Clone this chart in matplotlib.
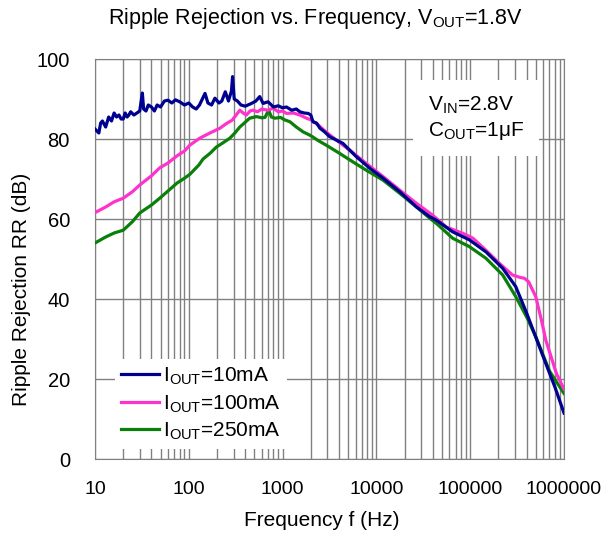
import matplotlib
matplotlib.use("Agg")
import matplotlib.pyplot as plt
from matplotlib.ticker import FixedLocator, NullFormatter

plt.rcParams['font.family'] = ['Liberation Sans', 'DejaVu Sans']
plt.rcParams['mathtext.fontset'] = 'custom'
plt.rcParams['mathtext.rm'] = 'Liberation Sans'

# IOUT = 10mA (blue)
f_10 = [10, 11, 11.5, 12, 13, 14, 15, 16, 17, 18, 19, 20, 21, 22, 23, 24, 26, 28, 30,
        32, 33, 35, 37, 40, 43, 46, 50, 55, 60, 66, 72, 80, 90, 100, 110, 120, 130,
        149, 160, 175, 190, 210, 225, 245, 265, 285, 293, 305, 330, 360, 400, 466,
        520, 570, 620, 700, 800, 900, 1000, 1100, 1250, 1400, 1530, 1700, 1870, 2000,
        2110, 2300, 2500, 2800, 3170, 3700, 4400, 5200, 6100, 8500, 11800, 17800,
        26800, 37000, 43600, 65000, 98000, 147000, 222000, 306000, 398000, 600000,
        800000, 1000000]
rr_10 = [82.5, 81.5, 84, 84.5, 83, 85.5, 84.5, 86.5, 85.5, 86, 85, 85, 86.5, 85.5, 86,
         86.8, 86, 86.5, 87, 91.5, 87.5, 87, 88.5, 88, 87, 88.5, 88, 89.5, 89.7, 89,
         89.8, 89.3, 88.5, 89, 88, 87.5, 88.5, 91.4, 89, 88.5, 90.2, 89, 89.5, 91.8,
         89.5, 92, 95.6, 90, 89.5, 88.5, 88.2, 88.9, 89.5, 90.6, 88.9, 89.3, 88, 88.3,
         87.8, 88, 87.2, 87.5, 86.8, 86.5, 86.4, 86, 84.3, 84, 82.7, 81.8, 80.6, 79.8,
         78.9, 77.2, 75.6, 72.7, 70.2, 66.8, 63, 60.6, 59.7, 56.8, 54.8, 51.8, 47.7,
         43.1, 36.6, 25.6, 18, 11.5]

# IOUT = 100mA (pink)
f_100 = [10, 13, 16, 20, 25, 30, 40, 49, 60, 75, 90, 103, 131, 168, 215, 253, 290, 320,
         350, 380, 412, 450, 484, 540, 600, 690, 794, 900, 1000, 1100, 1300, 1530, 1800,
         2000, 2400, 2900, 3750, 5200, 7800, 11800, 17800, 26800, 39600, 55600, 84000,
         107000, 147000, 205000, 283000, 340000, 377000, 420000, 444000, 500000, 575000,
         640000, 830000, 1000000]
rr_100 = [61.6, 63, 64.3, 65.2, 66.8, 68.5, 70.8, 72.8, 74, 75.8, 77, 78.5, 80.2, 81.5,
          82.7, 83.9, 84.7, 86, 87.2, 86.5, 86, 87, 87.2, 86.8, 87.5, 87.2, 87.7, 86.8,
          87, 86.4, 86.5, 86, 85.2, 84.8, 83.5, 81.8, 79.7, 77.2, 73.9, 70.6, 67.2, 63.9,
          61, 58, 56.4, 55.2, 52.2, 48.9, 46, 45.4, 45.2, 44.3, 43.1, 40.6, 34.7, 29.7,
          21.4, 17.5]

# IOUT = 250mA (green)
f_250 = [10, 13, 16, 20, 25, 30, 40, 49, 60, 75, 90, 103, 128, 142, 170, 197, 230, 274,
         310, 350, 400, 446, 527, 600, 650, 710, 760, 830, 950, 1050, 1200, 1400, 1650,
         1940, 2100, 2400, 2900, 4060, 5600, 7800, 11800, 17800, 26800, 37000, 43600,
         65000, 98000, 147000, 222000, 306000, 398000, 500000, 700000, 1000000]
rr_250 = [54, 55.5, 56.5, 57.2, 59.3, 61.5, 63.5, 65.2, 67, 69, 70.2, 71.2, 73.5, 75,
          76.5, 78, 79, 80.2, 81.5, 83, 84.2, 85.2, 85.6, 85.3, 85.4, 87.2, 85.5, 85.2,
          85.4, 84.8, 84.3, 83, 81.8, 81, 80.5, 79.6, 78.5, 76.4, 74.3, 72.2, 69.7, 66.4,
          63, 60.2, 58.9, 55.2, 53.1, 50.2, 46, 40.6, 35.6, 30.6, 22, 16.4]

x_ticks = [10, 100, 1000, 10000, 100000, 1000000]
x_labels = ['10', '100', '1000', '10000', '100000', '1000000']
y_ticks = [0, 20, 40, 60, 80, 100]

fig = plt.figure(figsize=(6.03, 5.33), dpi=100)
ax = fig.add_axes([0.1575, 0.1388, 0.7778, 0.7505])

ax.plot(f_10, rr_10, color='#000090', lw=2.3, label=r'I$_{\mathrm{OUT}}$=10mA', zorder=5)
ax.plot(f_100, rr_100, color='#FF33CC', lw=2.3, label=r'I$_{\mathrm{OUT}}$=100mA', zorder=4)
ax.plot(f_250, rr_250, color='#0A800A', lw=2.3, label=r'I$_{\mathrm{OUT}}$=250mA', zorder=3)

ax.set_xscale('log')
ax.set_xlim(10, 1000000)
ax.set_ylim(0, 100)
ax.xaxis.set_major_locator(FixedLocator(x_ticks))
ax.set_xticklabels(x_labels)
ax.xaxis.set_minor_locator(FixedLocator(
    [m * 10 ** k for k in range(1, 6) for m in range(2, 10)]))
ax.xaxis.set_minor_formatter(NullFormatter())
ax.set_yticks(y_ticks)
ax.tick_params(which='both', length=0, labelsize=14)
ax.tick_params(axis='y', labelsize=14.5)
ax.tick_params(axis='x', pad=16)
ax.tick_params(axis='y', pad=18)
ax.grid(which='both', axis='x', color='#808080', lw=1.0)
ax.grid(which='major', axis='y', color='#808080', lw=1.0)
for s in ax.spines.values():
    s.set_color('#808080')

ax.text(0.71, 0.912, 'V$_{\\mathrm{IN}}$=2.8V\nC$_{\\mathrm{OUT}}$=1\u03bcF',
        transform=ax.transAxes, ha='left', va='top', fontsize=15, linespacing=1.25,
        bbox=dict(boxstyle='square,pad=0.7', fc='white', ec='none'), zorder=6)

leg = ax.legend(loc='lower left', bbox_to_anchor=(0.02, 0.0), fontsize=15,
                frameon=True, fancybox=False, framealpha=1, edgecolor='none',
                handlelength=1.8, handletextpad=0.2, labelspacing=0.3,
                borderpad=0.3)
leg.set_zorder(6)

fig.text(0.524, 0.966, 'Ripple Rejection vs. Frequency, V$_{\\mathrm{OUT}}$=1.8V',
         ha='center', va='center', fontsize=15.5)
fig.text(0.534, 0.024, 'Frequency f (Hz)', ha='center', va='center', fontsize=15)
fig.text(0.036, 0.458, 'Ripple Rejection RR (dB)', ha='center', va='center',
         rotation=90, fontsize=15)

fig.savefig('out.png', dpi=100)
